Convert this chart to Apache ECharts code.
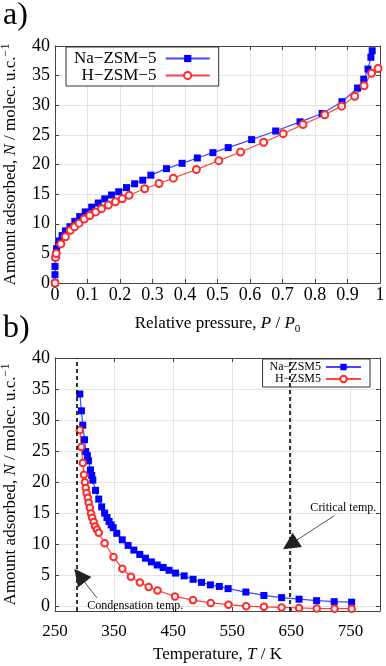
<!DOCTYPE html>
<html><head><meta charset="utf-8">
<script src="https://cdn.jsdelivr.net/npm/echarts@6/dist/echarts.min.js"></script>
<style>html,body{margin:0;padding:0;background:#fff}#c{width:386px;height:666px}</style>
</head><body><div id="c"></div>
<script>
// ---- Panel a) adsorption isotherms ----
const pressureNa = [0,0,0,0.001,0.005,0.013,0.022,0.032,0.046,0.061,0.076,0.093,0.113,0.133,0.153,0.174,0.196,0.22,0.245,0.27,0.295,0.343,0.391,0.438,0.486,0.533,0.605,0.679,0.754,0.822,0.883,0.931,0.95,0.963,0.972,0.976];
const amountNa   = [0,1.4,2.8,4.3,5.8,7.1,8.0,8.8,9.5,10.4,11.2,12.0,12.8,13.5,14.2,14.85,15.4,16.1,16.75,17.35,18.2,19.3,20.2,21.1,22.0,22.85,24.2,25.65,27.2,28.6,30.6,32.9,34.4,36.1,38.1,39.2];
const pressureH  = [0,0.002,0.004,0.018,0.032,0.047,0.06,0.074,0.09,0.107,0.125,0.143,0.164,0.186,0.207,0.228,0.276,0.32,0.364,0.435,0.504,0.571,0.642,0.702,0.763,0.83,0.882,0.922,0.951,0.974,0.994];
const amountH    = [0,4.3,5.0,6.6,7.8,8.9,9.5,10.1,10.8,11.4,12.0,12.55,13.15,13.7,14.2,14.8,15.9,16.8,17.7,19.15,20.65,22.1,23.75,25.2,26.75,28.4,29.85,31.5,33.3,35.4,36.2];
const pressureTicks = [0,0.1,0.2,0.3,0.4,0.5,0.6,0.7,0.8,0.9,1];
const amountTicks = [0,5,10,15,20,25,30,35,40];

// ---- Panel b) isobars ----
const tempNa = [292,294.7,297,300,302,304.8,306.6,310,312.2,314,318.6,324,329,334,338,341.5,345,348.5,354.5,363.8,373.7,383.5,393.5,403,413,423,433,443,454,468.5,483.7,498,513,528,543,573,603.5,633.5,663,692.7,722.5,752];
const adsNa  = [34.2,31.5,29.2,26.85,24.95,24.3,23.45,22.0,21.1,20.35,18.7,17.3,16.05,15.05,14.35,13.7,13.15,12.7,11.8,10.75,9.85,9.1,8.4,7.8,7.2,6.7,6.3,5.85,5.4,4.95,4.4,3.9,3.5,3.25,2.9,2.35,1.8,1.45,1.2,0.96,0.8,0.72];
const tempH  = [292,294.5,297,299,300.5,302,303.5,305.5,307,309,311,313,315.5,318,321,324,334,349,364,378.5,393.5,408.5,423.5,453,483.5,513.5,543.5,573.5,603.5,633.5,663,693,723,752];
const adsH   = [28.4,25.7,23.1,21.2,20.0,19.1,18.3,17.5,16.7,15.9,15.0,14.3,13.6,12.9,12.4,11.9,10.2,8.0,6.1,4.8,3.9,3.15,2.6,1.65,1.05,0.6,0.32,0.08,-0.03,-0.13,-0.21,-0.3,-0.32,-0.32];
const tempTicks = [250,350,450,550,650,750];
const adsTicks = [0,5,10,15,20,25,30,35,40];
const condensationTemp = 286;
const criticalTemp = 647;
const condArrow = [[321,1.4],[291.5,5.0]];
const critArrow = [[722,14.6],[648,10.0]];
const condLabelAt = [385.8,0.16];
const critLabelAt = [738,15.9];

const F = 'Liberation Serif';
const zip = (a,b) => a.map((v,i)=>[v,b[i]]);
const gridColor = '#e3e3e3';
const axisCol = '#444';

function yName(){
  return '{n|Amount adsorbed, }{i|N}{n| / molec. u.c.}{s|−1}';
}
const yNameStyle = {
  fontFamily: F, fontSize: 17, color: '#000', lineHeight: 21,
  rich: {
    n: {fontFamily: F, fontSize: 17, color: '#000', verticalAlign: 'middle'},
    i: {fontFamily: F, fontSize: 17, color: '#000', fontStyle: 'italic', verticalAlign: 'middle'},
    s: {fontFamily: F, fontSize: 12, color: '#000', verticalAlign: 'top'}
  }
};
const mirrorAxis = (extra) => Object.assign({
  axisLine: {show: true, onZero: false, lineStyle: {color: axisCol}},
  axisTick: {show: true, inside: true, length: 4, lineStyle: {color: axisCol}},
  axisLabel: {show: false}, splitLine: {show: false}
}, extra);

const option = {
  animation: false,
  backgroundColor: '#fff',
  grid: [
    {left: 55, right: 6, top: 46, height: 237, outerBoundsMode: 'none', containLabel: false},
    {left: 55, right: 6, top: 358, height: 253, outerBoundsMode: 'none', containLabel: false}
  ],
  xAxis: [
    {gridIndex: 0, type: 'value', min: 0, max: 1, interval: 0.1,
      axisLine: {onZero: false, lineStyle: {color: axisCol}},
      axisTick: {inside: true, length: 4, lineStyle: {color: axisCol}},
      axisLabel: {fontFamily: F, fontSize: 18, color: '#000', margin: 3,
        formatter: v => (Math.abs(v) < 1e-9 ? '0' : Math.abs(v-1) < 1e-9 ? '1' : v.toFixed(1))},
      splitLine: {show: true, lineStyle: {color: gridColor}},
      name: '{n|Relative pressure, }{i|P}{n| / }{i|P}{b|0}', nameLocation: 'middle', nameGap: 30,
      nameTextStyle: {fontFamily: F, fontSize: 17, color: '#000', lineHeight: 22,
        rich: {n: {fontFamily: F, fontSize: 17, color: '#000'}, i: {fontFamily: F, fontSize: 17, color: '#000', fontStyle: 'italic'},
               b: {fontFamily: F, fontSize: 11, color: '#000', verticalAlign: 'bottom'}}}
    },
    mirrorAxis({gridIndex: 0, type: 'value', position: 'top', min: 0, max: 1, interval: 0.1}),
    {gridIndex: 1, type: 'value', min: 250, max: 800,
      axisLine: {onZero: false, lineStyle: {color: axisCol}},
      axisTick: {inside: true, length: 4, lineStyle: {color: axisCol}, customValues: tempTicks},
      axisLabel: {fontFamily: F, fontSize: 17, color: '#000', margin: 12, customValues: tempTicks},
      splitLine: {show: true, lineStyle: {color: gridColor}},
      name: '{n|Temperature, }{i|T}{n| / K}', nameLocation: 'middle', nameGap: 35,
      nameTextStyle: {fontFamily: F, fontSize: 17, color: '#000',
        rich: {n: {fontFamily: F, fontSize: 17, color: '#000'}, i: {fontFamily: F, fontSize: 17, color: '#000', fontStyle: 'italic'}}}
    },
    mirrorAxis({gridIndex: 1, type: 'value', position: 'top', min: 250, max: 800,
      axisTick: {show: true, inside: true, length: 4, lineStyle: {color: axisCol}, customValues: tempTicks}})
  ],
  yAxis: [
    {gridIndex: 0, type: 'value', min: 0, max: 40, interval: 5,
      axisLine: {show: true, onZero: false, lineStyle: {color: axisCol}},
      axisTick: {show: true, inside: true, length: 4, lineStyle: {color: axisCol}},
      axisLabel: {fontFamily: F, fontSize: 18, color: '#000', margin: 5},
      splitLine: {show: true, lineStyle: {color: gridColor}},
      name: yName(), nameLocation: 'middle', nameGap: 23, nameRotate: 90, nameTextStyle: yNameStyle
    },
    mirrorAxis({gridIndex: 0, type: 'value', position: 'right', min: 0, max: 40, interval: 5}),
    {gridIndex: 1, type: 'value', min: -0.7, max: 40,
      axisLine: {show: true, onZero: false, lineStyle: {color: axisCol}},
      axisTick: {show: true, inside: true, length: 4, lineStyle: {color: axisCol}, customValues: adsTicks},
      axisLabel: {fontFamily: F, fontSize: 18, color: '#000', margin: 5, customValues: adsTicks},
      splitLine: {show: true, lineStyle: {color: gridColor}},
      name: yName(), nameLocation: 'middle', nameGap: 23, nameRotate: 90, nameTextStyle: yNameStyle
    },
    mirrorAxis({gridIndex: 1, type: 'value', position: 'right', min: -0.7, max: 40,
      axisTick: {show: true, inside: true, length: 4, lineStyle: {color: axisCol}, customValues: adsTicks}})
  ],
  legend: [
    {data: ['Na−ZSM−5', 'H−ZSM−5'], orient: 'vertical', align: 'right', left: 66, top: 47,
      itemWidth: 44, itemHeight: 9, itemGap: 0, padding: [3, 8, 2, 8],
      formatter: n => n + ' ',
      textStyle: {fontFamily: F, fontSize: 17, color: '#000', lineHeight: 15},
      borderColor: '#333', borderWidth: 1, backgroundColor: '#fff', borderRadius: 0},
    {data: ['Na−ZSM5', 'H−ZSM5'], orient: 'vertical', align: 'right', right: 16, top: 359,
      itemWidth: 35, itemHeight: 8, itemGap: 0, padding: [2, 8, 2, 7],
      textStyle: {fontFamily: F, fontSize: 12, color: '#000', lineHeight: 12},
      borderColor: '#333', borderWidth: 1, backgroundColor: '#fff', borderRadius: 0}
  ],
  graphic: [
    {type: 'text', left: 3, top: 0, style: {text: 'a)', font: '32px "Liberation Serif"', fill: '#000'}},
    {type: 'text', left: 3, top: 313, style: {text: 'b)', font: '32px "Liberation Serif"', fill: '#000'}}
  ],
  series: [
    {name: 'Na−ZSM−5', type: 'line', xAxisIndex: 0, yAxisIndex: 0, data: zip(pressureNa, amountNa),
      symbol: 'rect', symbolSize: 7, lineStyle: {color: '#4646ff', width: 1.2}, itemStyle: {color: '#0000ff'}},
    {name: 'H−ZSM−5', type: 'line', xAxisIndex: 0, yAxisIndex: 0, data: zip(pressureH, amountH),
      symbol: 'emptyCircle', symbolSize: 7, lineStyle: {color: '#ff4040', width: 1.2},
      itemStyle: {color: '#ff2a2a', borderColor: '#ff2a2a', borderWidth: 1.2}},
    {name: 'Na−ZSM5', type: 'line', xAxisIndex: 2, yAxisIndex: 2, data: zip(tempNa, adsNa),
      symbol: 'rect', symbolSize: 7, lineStyle: {color: '#4646ff', width: 1.2}, itemStyle: {color: '#0000ff'},
      markLine: {silent: true, symbol: 'none', animation: false,
        lineStyle: {color: '#000', type: [4, 3], width: 1.6}, label: {show: false},
        data: [{xAxis: condensationTemp}, {xAxis: criticalTemp}]}},
    {name: 'H−ZSM5', type: 'line', xAxisIndex: 2, yAxisIndex: 2, data: zip(tempH, adsH),
      symbol: 'emptyCircle', symbolSize: 6.5, lineStyle: {color: '#ff4040', width: 1.2},
      itemStyle: {color: '#ff2a2a', borderColor: '#ff2a2a', borderWidth: 1.2},
      markLine: {silent: true, animation: false, symbol: ['none', 'triangle'], symbolSize: 17,
        lineStyle: {color: '#222', type: 'solid', width: 0.8}, label: {show: false},
        data: [
          [{coord: condArrow[0]}, {coord: condArrow[1], symbol: 'triangle', symbolSize: 17}],
          [{coord: critArrow[0]}, {coord: critArrow[1], symbol: 'triangle', symbolSize: 17}]
        ]},
      markPoint: {silent: true, animation: false, symbol: 'circle', symbolSize: 1,
        itemStyle: {color: 'rgba(0,0,0,0)'},
        label: {show: true, position: 'inside', fontFamily: F, fontSize: 12, color: '#000'},
        data: [
          {coord: condLabelAt, label: {formatter: 'Condensation temp.'}},
          {coord: critLabelAt, label: {formatter: 'Critical temp.'}}
        ]}}
  ]
};
const chart = echarts.init(document.getElementById('c'), null, {renderer: 'canvas'});
chart.setOption(option);
</script></body></html>
